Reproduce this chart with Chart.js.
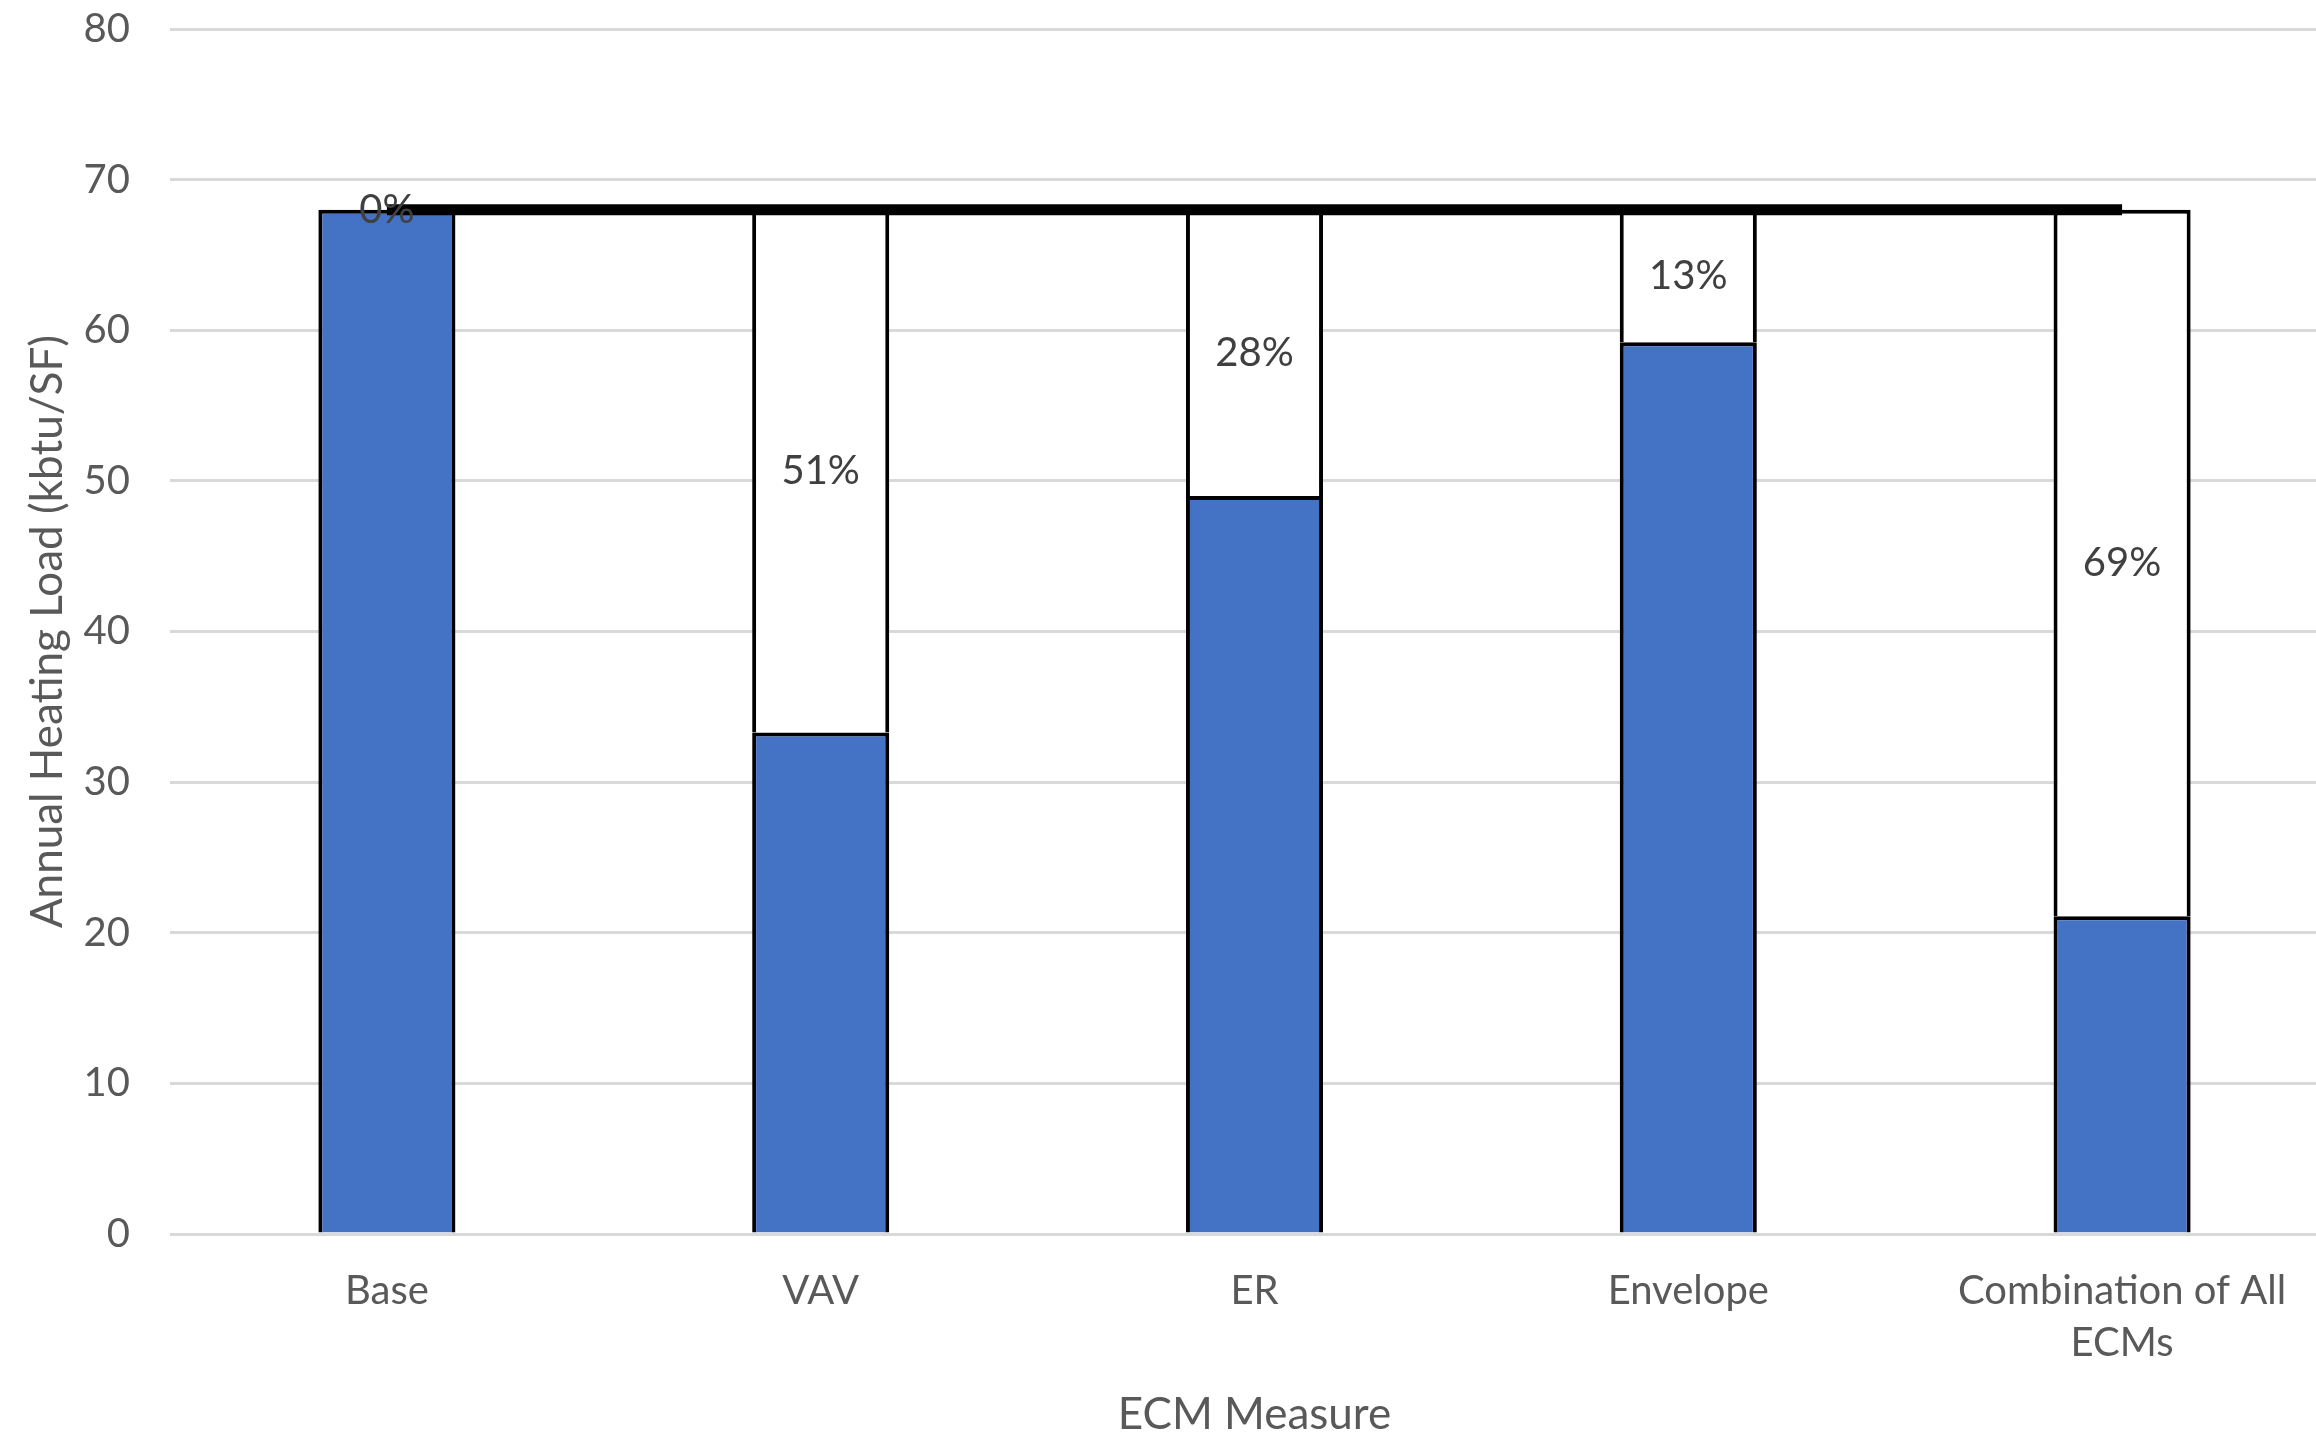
<!DOCTYPE html>
<html>
<head>
<meta charset="utf-8">
<script src="https://cdn.jsdelivr.net/npm/chart.js@4.4.1/dist/chart.umd.min.js"></script>
<style>
  html, body { margin: 0; padding: 0; background: #fff; overflow: hidden; }
  #wrap { width: 2339px; height: 1437px; position: relative; }
</style>
</head>
<body>
<div id="wrap"><canvas id="heatChart"></canvas></div>
<script>
// categories and values
var categories = ['Base', 'VAV', 'ER', 'Envelope', ['Combination of All', 'ECMs']];
var heatingLoad = [68, 33.3, 49, 59.2, 21.1];   // blue part
var savedLoad = [0, 34.7, 19, 8.8, 46.9];       // white part up to the base
var baseLine = [68, 68, 68, 68, 68];
var savingLabels = ['0%', '51%', '28%', '13%', '69%'];
var yTicks = [0, 10, 20, 30, 40, 50, 60, 70, 80];

var FONT = 'Lato, "Open Sans", sans-serif';

// draws the % text in the middle of the white segment
var pctPlugin = {
	id: 'pctLabels',
	afterDatasetsDraw: function(chart){
		var ctx = chart.ctx;
		var meta = chart.getDatasetMeta(1);
		ctx.save();
		ctx.font = '40px ' + FONT;
		ctx.fillStyle = '#404040';
		ctx.textAlign = 'center';
		ctx.textBaseline = 'middle';
		for(var k=0;k<meta.data.length;k++){
			var p = meta.data[k].getProps(['x','y','base'], true);
			ctx.fillText(savingLabels[k], p.x, (p.y + p.base) / 2);
		}
		ctx.restore();
	}
};

var ctx = document.getElementById('heatChart').getContext('2d');
var chart = new Chart(ctx, {
	data: {
		labels: categories,
		datasets: [
			{
				type: 'bar',
				label: 'Heating Load',
				data: heatingLoad,
				backgroundColor: '#4472C4',
				borderColor: '#000000',
				borderWidth: 4,
				stack: 'a',
				order: 1,
				barPercentage: 0.316,
				categoryPercentage: 1
			},
			{
				type: 'bar',
				label: 'Savings',
				data: savedLoad,
				backgroundColor: '#ffffff',
				borderColor: '#000000',
				borderWidth: 4,
				stack: 'a',
				order: 1,
				barPercentage: 0.316,
				categoryPercentage: 1
			},
			{
				type: 'line',
				label: 'Base',
				data: baseLine,
				borderColor: '#000000',
				borderWidth: 11,
				pointRadius: 0,
				fill: false,
				stack: 'line',
				order: 0
			}
		]
	},
	options: {
		responsive: true,
		maintainAspectRatio: false,
		animation: false,
		layout: { padding: { top: 29, right: 0, bottom: 0, left: 0 } },
		plugins: {
			legend: { display: false },
			tooltip: { enabled: false }
		},
		scales: {
			x: {
				stacked: true,
				grid: { display: false },
				border: { display: false },
				ticks: {
					color: '#595959',
					font: { family: FONT, size: 40, lineHeight: 1.3 },
					padding: 23,
					maxRotation: 0,
					autoSkip: false
				},
				title: {
					display: true,
					text: 'ECM Measure',
					color: '#595959',
					font: { family: FONT, size: 44, lineHeight: 1.0 },
					padding: { top: 0, bottom: 0 }
				},
				afterFit: function(s){
					s.height = 203;
					s.paddingLeft = 0; s.paddingRight = 0;
				}
			},
			y: {
				stacked: true,
				min: 0,
				max: 80,
				afterBuildTicks: function(s){
					s.ticks = yTicks.map(function(v){ return { value: v }; });
				},
				grid: { color: '#d9d9d9', lineWidth: 3, drawTicks: false },
				border: { display: false },
				ticks: {
					color: '#595959',
					font: { family: FONT, size: 40 },
					padding: 40
				},
				title: {
					display: true,
					text: 'Annual Heating Load (kbtu/SF)',
					color: '#595959',
					font: { family: FONT, size: 44, lineHeight: 1.2 },
					padding: { top: 21, bottom: 0 }
				},
				afterFit: function(s){
					s.width = 170;
					s.paddingTop = 0; s.paddingBottom = 0;
				}
			}
		}
	},
	plugins: [pctPlugin]
});
</script>
</body>
</html>
